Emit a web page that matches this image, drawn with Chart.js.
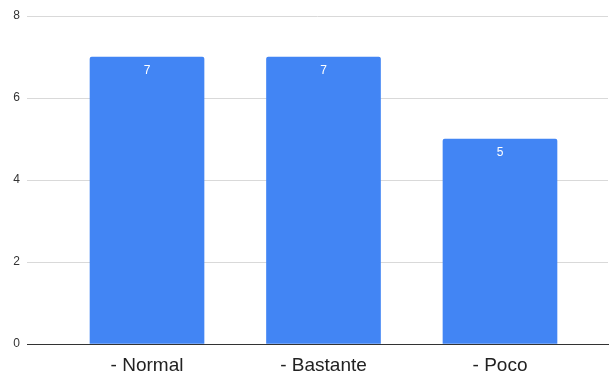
<!DOCTYPE html>
<html>
<head>
<meta charset="utf-8">
<script src="https://cdn.jsdelivr.net/npm/chart.js@4.4.1/dist/chart.umd.min.js"></script>
<style>
  html, body { margin: 0; padding: 0; background: #fff; }
  #wrap { width: 609px; height: 376px; }
</style>
</head>
<body>
<div id="wrap"><canvas id="c" width="609" height="376"></canvas></div>
<script>
const categories = ['- Normal', '- Bastante', '- Poco'];
const values = [7, 7, 5];
const yTicks = [0, 2, 4, 6, 8];

// Write each bar's value in white just inside its top edge
const barValueLabels = {
  id: 'barValueLabels',
  afterDatasetsDraw(chart) {
    const ctx = chart.ctx;
    const meta = chart.getDatasetMeta(0);
    ctx.save();
    ctx.fillStyle = '#ffffff';
    ctx.font = '12px "Liberation Sans", Arial, sans-serif';
    ctx.textAlign = 'center';
    ctx.textBaseline = 'middle';
    meta.data.forEach((bar, i) => {
      ctx.fillText(String(values[i]), bar.x, bar.y + 14);
    });
    ctx.restore();
  }
};

new Chart(document.getElementById('c'), {
  type: 'bar',
  data: {
    datasets: [{
      data: values.map((v, i) => ({ x: i, y: v })),
      backgroundColor: '#4285F4',
      borderRadius: 2,
      borderSkipped: 'bottom',
      barThickness: 114
    }]
  },
  options: {
    responsive: false,
    animation: false,
    layout: { padding: { top: 16, right: 1, left: 0, bottom: 0 } },
    plugins: { legend: { display: false }, tooltip: { enabled: false } },
    scales: {
      x: {
        type: 'linear',
        offset: false,
        min: -0.68,
        max: 2.612,
        afterBuildTicks: s => { s.ticks = categories.map((_, i) => ({ value: i })); },
        afterFit: s => { s.height = 32; },
        grid: { display: false, drawTicks: false, offset: false },
        border: { display: true, color: '#333333', width: 1 },
        ticks: {
          callback: v => categories[v],
          color: '#222222',
          font: { family: '"Liberation Sans", Arial, sans-serif', size: 19 },
          padding: 10,
          maxRotation: 0,
          autoSkip: false
        }
      },
      y: {
        min: 0,
        max: 8,
        afterBuildTicks: s => { s.ticks = yTicks.map(v => ({ value: v })); },
        afterFit: s => { s.width = 27; },
        grid: {
          drawTicks: false,
          color: c => c.tick && c.tick.value === 0 ? 'rgba(0,0,0,0)' : '#d9d9d9'
        },
        border: { display: false },
        ticks: {
          color: '#333333',
          font: { family: '"Liberation Sans", Arial, sans-serif', size: 12 },
          padding: 7
        }
      }
    }
  },
  plugins: [barValueLabels]
});
</script>
</body>
</html>
